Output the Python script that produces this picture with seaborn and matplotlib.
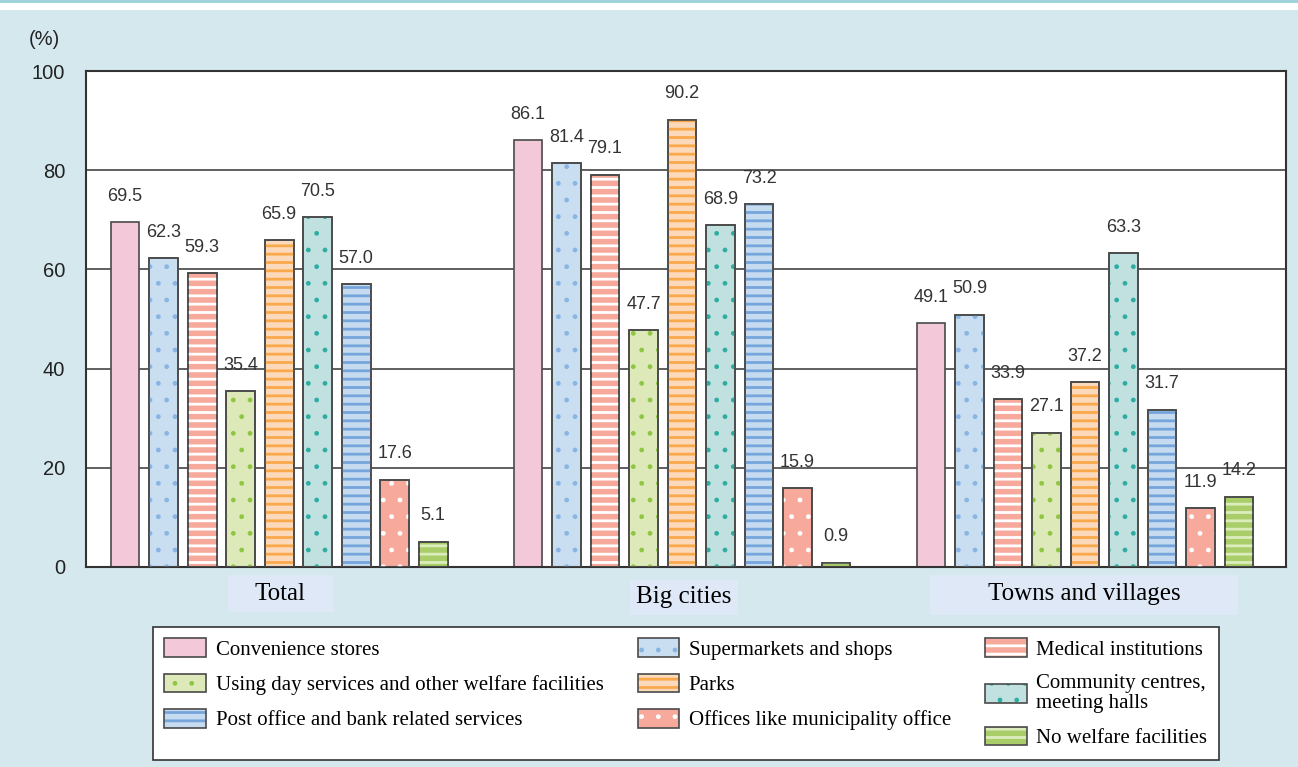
import matplotlib
matplotlib.use("Agg")
import matplotlib.pyplot as plt
import pandas as pd
import seaborn as sns
from matplotlib.patches import Patch, Rectangle
from matplotlib.legend_handler import HandlerTuple

# Data
areas = ["Total", "Big cities", "Towns and villages"]
facilities = [
    "Convenience stores",
    "Supermarkets and shops",
    "Medical institutions",
    "Using day services and other welfare facilities",
    "Parks",
    "Community centres,\nmeeting halls",
    "Post office and bank related services",
    "Offices like municipality office",
    "No welfare facilities",
]
total = [69.5, 62.3, 59.3, 35.4, 65.9, 70.5, 57.0, 17.6, 5.1]
big_cities = [86.1, 81.4, 79.1, 47.7, 90.2, 68.9, 73.2, 15.9, 0.9]
towns = [49.1, 50.9, 33.9, 27.1, 37.2, 63.3, 31.7, 11.9, 14.2]

# Styles
face_colors = ["#f3c9da", "#c9def0", "#f7a99c", "#dde9b9", "#fdd9bb",
               "#c0e1df", "#c6dbf0", "#f7a99c", "#a9cd68"]
hatch_colors = [None, "#89b5e3", "white", "#8fc641", "#f9a94b",
                "#2fada2", "#76a5db", "white", "#dcedbd"]
hatches = [None, ".", "--", ".", "--", ".", "--", ".", "--"]
edge = "#4a4a4a"
bg = "#d4e8ee"


def hatch_lw(h):
    # dots get a thinner hatch line than stripes
    return 1.0 if h == "." else 2.0


def hatch_patch(cls, *args, hatch=None, **kw):
    lw = hatch_lw(hatch)
    with plt.rc_context({"hatch.linewidth": lw}):
        p = cls(*args, hatch=hatch, **kw)
    if hasattr(p, "set_hatch_linewidth"):
        p.set_hatch_linewidth(lw)
    return p


rows = []
for area, vals in zip(areas, [total, big_cities, towns]):
    for fac, v in zip(facilities, vals):
        rows.append({"area": area, "facility": fac, "value": v})
df = pd.DataFrame(rows)

fig = plt.figure(figsize=(12.98, 7.67), dpi=100, facecolor=bg)
ax = fig.add_axes([0.0663, 0.2608, 0.9245, 0.6466])
ax.set_facecolor("white")

sns.barplot(data=df, x="area", y="value", hue="facility", order=areas,
            hue_order=facilities, palette=face_colors, saturation=1,
            width=0.86, gap=0.25, edgecolor=edge, linewidth=1.2,
            legend=False, ax=ax, zorder=2)

# patterns on top of the bars
for cont, h, hc, vals in zip(ax.containers, hatches, hatch_colors,
                             zip(total, big_cities, towns)):
    for bar, v in zip(cont, vals):
        if h:
            ax.add_patch(hatch_patch(Rectangle, bar.get_xy(), bar.get_width(), bar.get_height(),
                                     fill=False, hatch=h, edgecolor=hc, linewidth=0, zorder=3))
            ax.add_patch(Rectangle(bar.get_xy(), bar.get_width(), bar.get_height(),
                                   fill=False, edgecolor=edge, linewidth=1.2, zorder=4))
        ax.text(bar.get_x() + bar.get_width() / 2, bar.get_height() + 5.2, f"{v:.1f}",
                ha="center", va="center", fontsize=13, color="#333333",
                family="Liberation Sans", zorder=5)

ax.set_xlim(-0.479, 2.499)
ax.set_ylim(0, 100)
ax.set_yticks([0, 20, 40, 60, 80, 100])
ax.set_xticks([])
ax.set_xlabel("")
ax.set_ylabel("")
ax.yaxis.grid(True, color="#444444", linewidth=1.2)
ax.set_axisbelow(True)
ax.tick_params(axis="y", length=0, pad=15, labelsize=14.5, labelcolor="#222222")
for lab in ax.get_yticklabels():
    lab.set_family("Liberation Sans")
for s in ax.spines.values():
    s.set_color("#333333")
    s.set_linewidth(1.5)

fig.text(0.034, 0.948, "(%)", fontsize=14.5, family="Liberation Sans",
         ha="center", va="center", color="#222222")

# top strip
fig.patches.append(Rectangle((0, 1 - 10 / 767), 1, 10 / 767, transform=fig.transFigure,
                             facecolor="white", edgecolor="none"))
fig.patches.append(Rectangle((0, 1 - 3 / 767), 1, 3 / 767, transform=fig.transFigure,
                             facecolor="#9ed3dc", edgecolor="none"))

# category label boxes
boxes = [(0.1757, 0.2021, 0.0809, 0.0482, 0.2161, 0.2262),
         (0.4854, 0.1982, 0.0832, 0.0456, 0.5270, 0.2216),
         (0.7165, 0.1982, 0.2373, 0.0522, 0.8351, 0.2256)]
for name, (x0, y0, w, h, tx, ty) in zip(areas, boxes):
    fig.patches.append(Rectangle((x0, y0), w, h, transform=fig.transFigure,
                                 facecolor="#dfe8f6", edgecolor="none"))
    fig.text(tx, ty, name, fontsize=18, family="Liberation Serif",
             ha="center", va="center", color="black")

# legend
handles = []
for fc, h, hc in zip(face_colors, hatches, hatch_colors):
    parts = [Patch(facecolor=fc, linewidth=0)]
    if h:
        parts.append(hatch_patch(Patch, fill=False, hatch=h, edgecolor=hc, linewidth=0))
    parts.append(Patch(fill=False, edgecolor=edge, linewidth=1.2))
    handles.append(tuple(parts))
order = [0, 3, 6, 1, 4, 7, 2, 5, 8]
with plt.rc_context({"hatch.linewidth": 2.0}):
    leg = fig.legend([handles[i] for i in order], [facilities[i] for i in order],
                     handler_map={tuple: HandlerTuple(ndivide=1)},
                     ncol=3, loc="upper left", mode="expand",
                     bbox_to_anchor=(0.1179, 0.013, 0.821, 0.1695), borderaxespad=0,
                     prop={"family": "Liberation Serif", "size": 15},
                     handlelength=2.0, handleheight=1.0, handletextpad=0.45,
                     labelspacing=0.66, borderpad=0.55, frameon=True, fancybox=False,
                     edgecolor="#333333", framealpha=1)
for p in leg.findobj(Rectangle):
    if p.get_hatch() and hasattr(p, "set_hatch_linewidth"):
        p.set_hatch_linewidth(hatch_lw(p.get_hatch()))
for t in leg.get_texts():
    t.set_linespacing(1.1)
leg.get_frame().set_linewidth(1.2)

fig.savefig("out.png", dpi=100, facecolor=bg)
